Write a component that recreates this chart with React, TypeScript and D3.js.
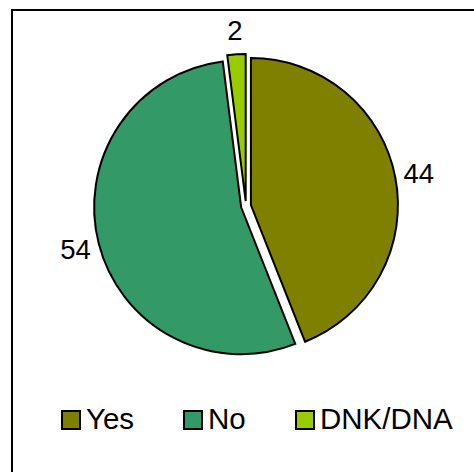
import React from "react";
import * as d3 from "d3";

const categories = ["Yes", "No", "DNK/DNA"];
const values = [44, 54, 2];
const colors = ["#808000", "#339966", "#99CC00"];

const W = 474;
const H = 472;
const cx = 246;
const cy = 206;
const R = 147;
const explode = 5;
const labelR = 176;
const font = "'Liberation Sans', Arial, sans-serif";

export default function App() {
  const pie = d3.pie<number>().sort(null).value((d) => d)(values);
  const arc = d3.arc<d3.PieArcDatum<number>>().innerRadius(0).outerRadius(R);

  const legendX = [61, 183, 295];
  return (
    <div style={{ position: "fixed", left: 0, top: 0 }}>
      <svg width={W} height={H} style={{ display: "block", background: "#fff" }}>
        <rect x={12} y={10} width={W} height={H} fill="#fff" stroke="#000" strokeWidth={2} />
        {pie.map((p, i) => {
          const mid = (p.startAngle + p.endAngle) / 2;
          const dx = Math.sin(mid) * explode;
          const dy = -Math.cos(mid) * explode;
          return (
            <path
              key={i}
              d={arc(p) || ""}
              transform={`translate(${cx + dx},${cy + dy})`}
              fill={colors[i]}
              stroke="#000"
              strokeWidth={2}
              strokeLinejoin="miter"
            />
          );
        })}
        {pie.map((p, i) => {
          const mid = (p.startAngle + p.endAngle) / 2;
          const x = cx + Math.sin(mid) * labelR;
          const y = cy - Math.cos(mid) * labelR;
          return (
            <text
              key={"l" + i}
              x={x}
              y={y}
              textAnchor="middle"
              dominantBaseline="central"
              fontFamily={font}
              fontSize={27.5}
              fill="#000"
            >
              {values[i]}
            </text>
          );
        })}
        {categories.map((c, i) => (
          <g key={"g" + i}>
            <rect
              x={legendX[i] + 1}
              y={411}
              width={18}
              height={18}
              fill={colors[i]}
              stroke="#000"
              strokeWidth={2}
            />
            <text x={legendX[i] + 25} y={429} fontFamily={font} fontSize={29.5} fill="#000">
              {c}
            </text>
          </g>
        ))}
      </svg>
    </div>
  );
}
